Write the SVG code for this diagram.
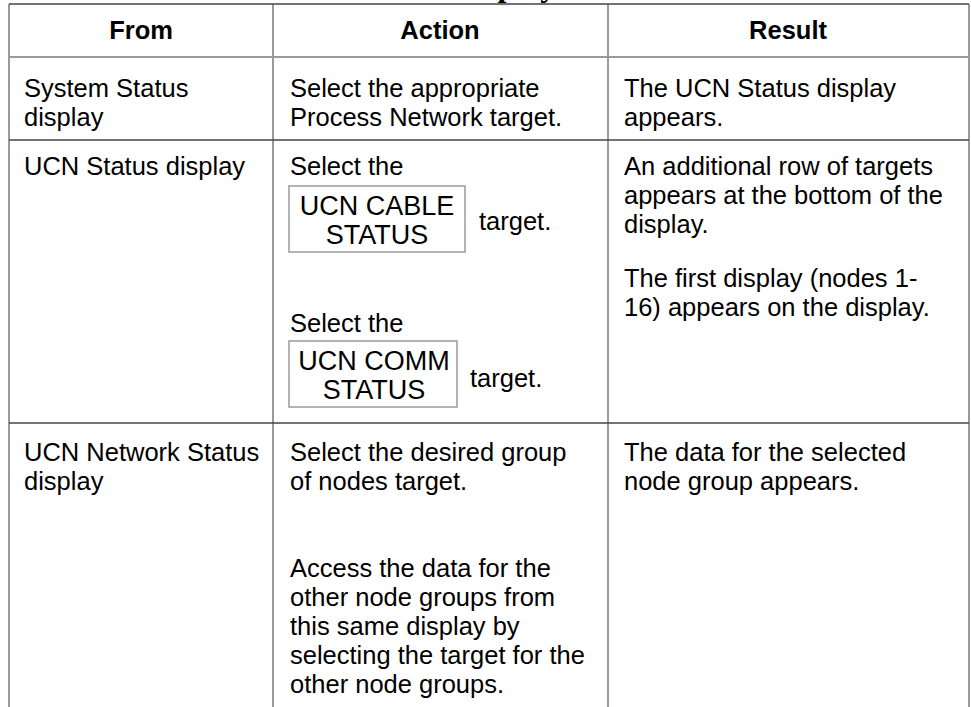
<svg xmlns="http://www.w3.org/2000/svg" width="971" height="707" viewBox="0 0 971 707">
  <style>
    .t { font-family: "Liberation Sans", Arial, sans-serif; font-size: 25.5px; fill: #000; }
    .h { font-family: "Liberation Sans", Arial, sans-serif; font-size: 25.5px; font-weight: bold; fill: #000; text-anchor: middle; }
    .title { font-family: "Liberation Serif", "Times New Roman", serif; font-size: 32px; font-weight: bold; fill: #000; }
    .rule { stroke: #444; stroke-width: 1.5; fill: none; }
    .col { stroke: #9a9a9a; stroke-width: 2; fill: none; }
    .btn { stroke: #9a9a9a; stroke-width: 1.5; fill: #fff; }
    .bt { font-family: "Liberation Sans", Arial, sans-serif; font-size: 27px; fill: #000; text-anchor: middle; }
  </style>

  <rect width="971" height="707" fill="#fff"/>

  <!-- page heading, clipped at the top edge -->
  <text class="title" x="453" y="-4">Display</text>

  <!-- table rules -->
  <g id="grid">
    <line class="col" x1="9" y1="4" x2="9" y2="707"/>
    <line class="col" x1="273" y1="4" x2="273" y2="707"/>
    <line class="col" x1="608" y1="4" x2="608" y2="707"/>
    <line class="col" x1="969" y1="4" x2="969" y2="707"/>
    <line class="rule" x1="9" y1="4" x2="969" y2="4"/>
    <line class="col" x1="9" y1="57" x2="969" y2="57"/>
    <line class="rule" x1="9" y1="140" x2="969" y2="140"/>
    <line class="rule" x1="9" y1="423" x2="969" y2="423"/>
  </g>

  <!-- header row -->
  <g id="header">
    <text class="h" x="141" y="39">From</text>
    <text class="h" x="440" y="39">Action</text>
    <text class="h" x="788" y="39">Result</text>
  </g>

  <!-- row 1 -->
  <g id="row-system-status">
    <text class="t" x="24" y="97">System Status</text>
    <text class="t" x="24" y="126">display</text>
    <text class="t" x="290" y="97">Select the appropriate</text>
    <text class="t" x="290" y="126">Process Network target.</text>
    <text class="t" x="624" y="97">The UCN Status display</text>
    <text class="t" x="624" y="126">appears.</text>
  </g>

  <!-- row 2 -->
  <g id="row-ucn-status">
    <text class="t" x="24" y="175">UCN Status display</text>

    <text class="t" x="290" y="175">Select the</text>
    <g id="btn-cable">
      <rect class="btn" x="289" y="186" width="176" height="66"/>
      <text class="bt" x="377" y="215">UCN CABLE</text>
      <text class="bt" x="377" y="244">STATUS</text>
    </g>
    <text class="t" x="479" y="230">target.</text>

    <text class="t" x="290" y="332">Select the</text>
    <g id="btn-comm">
      <rect class="btn" x="289" y="341" width="168" height="66"/>
      <text class="bt" x="374" y="370">UCN COMM</text>
      <text class="bt" x="374" y="399">STATUS</text>
    </g>
    <text class="t" x="470" y="387">target.</text>

    <text class="t" x="624" y="175">An additional row of targets</text>
    <text class="t" x="624" y="204">appears at the bottom of the</text>
    <text class="t" x="624" y="233">display.</text>
    <text class="t" x="624" y="287">The first display (nodes 1-</text>
    <text class="t" x="624" y="316">16) appears on the display.</text>
  </g>

  <!-- row 3 -->
  <g id="row-network-status">
    <text class="t" x="24" y="461">UCN Network Status</text>
    <text class="t" x="24" y="490">display</text>
    <text class="t" x="290" y="461">Select the desired group</text>
    <text class="t" x="290" y="490">of nodes target.</text>
    <text class="t" x="290" y="577">Access the data for the</text>
    <text class="t" x="290" y="606">other node groups from</text>
    <text class="t" x="290" y="635">this same display by</text>
    <text class="t" x="290" y="664">selecting the target for the</text>
    <text class="t" x="290" y="693">other node groups.</text>
    <text class="t" x="624" y="461">The data for the selected</text>
    <text class="t" x="624" y="490">node group appears.</text>
  </g>
</svg>
